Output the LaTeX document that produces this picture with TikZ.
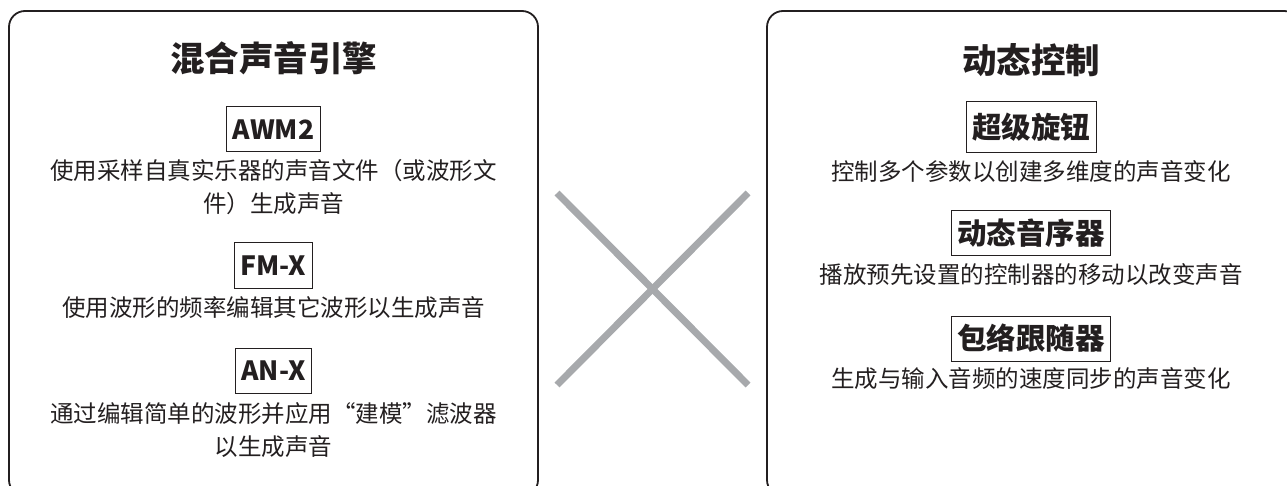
\documentclass[tikz,border=0pt]{standalone}
\usepackage{fontspec}
\newfontfamily\cjk{Noto Sans CJK SC}
\usepackage{tikz}
\usetikzlibrary{positioning}
\usetikzlibrary{calc}

\definecolor{ink}{HTML}{231F20}
\definecolor{crossgray}{HTML}{A7A9AC}

\tikzset{
	panel/.style={draw=ink, line width=1.8pt, rounded corners=16pt},
	heading/.style={font=\cjk\bfseries\fontsize{34.5}{40}\selectfont, text=ink},
	tag/.style={draw=ink, line width=1pt, text=ink, minimum height=45pt, inner xsep=6pt, inner ysep=0pt},
	tagcjk/.style={tag, font=\cjk\bfseries\fontsize{29.5}{30}\selectfont},
	taglat/.style={tag, font=\cjk\bfseries\fontsize{26.5}{30}\selectfont},
	blurb/.style={font=\cjk\fontsize{23.5}{33}\selectfont, text=ink, align=center},
	crossline/.style={draw=crossgray, line width=7pt}
}

\begin{document}
\begin{tikzpicture}[x=1pt, y=-1pt]
	\useasboundingbox (0,0) rectangle (1287,486);
	
	% ---------------------
	% Panels
	\draw[panel] (9,11) rectangle (538,496);
	\draw[panel] (767,11) rectangle (1300,496);
	
	\coordinate (Left)  at (273.5,0);
	\coordinate (Right) at (1031,0);
	
	% ---------------------
	% Sound engine
	\node[heading] (engine) at ($(Left)+(0,58.5)$) {混合声音引擎};
	
	\node[taglat] (awm) at ($(Left)+(0,129.5)$) {AWM2};
	\node[blurb] (awmtext) at ($(Left)+(0,187.5)$) {使用采样自真实乐器的声音文件（或波形文\\件）生成声音};
	
	\node[taglat] (fmx) at ($(Left)+(0,265.5)$) {FM-X};
	\node[blurb] (fmxtext) at ($(Left)+(0,308)$) {使用波形的频率编辑其它波形以生成声音};
	
	\node[taglat] (anx) at ($(Left)+(0,370.5)$) {AN-X};
	\node[blurb] (anxtext) at ($(Left)+(0,430.5)$) {通过编辑简单的波形并应用“建模”滤波器\\以生成声音};
	
	% ---------------------
	% Dynamic control
	\node[heading] (control) at ($(Right)+(0,60)$) {动态控制};
	
	\node[tagcjk, minimum height=51pt] (knob) at ($(Right)+(0,127.5)$) {超级旋钮};
	\node[blurb] (knobtext) at ($(Right)+(0,172)$) {控制多个参数以创建多维度的声音变化};
	
	\node[tagcjk] (seq) at ($(Right)+(0,233.5)$) {动态音序器};
	\node[blurb] (seqtext) at ($(Right)+(0,275)$) {播放预先设置的控制器的移动以改变声音};
	
	\node[tagcjk] (env) at ($(Right)+(0,338.5)$) {包络跟随器};
	\node[blurb] (envtext) at ($(Right)+(0,379)$) {生成与输入音频的速度同步的声音变化};
	
	% ---------------------
	% Cross
	\coordinate (CrossNW) at (557,193);
	\coordinate (CrossSE) at (748,385);
	\coordinate (CrossNE) at (748,193);
	\coordinate (CrossSW) at (557,385);
	\draw[crossline] (CrossNW) -- (CrossSE);
	\draw[crossline] (CrossNE) -- (CrossSW);
	
\end{tikzpicture}
\end{document}
